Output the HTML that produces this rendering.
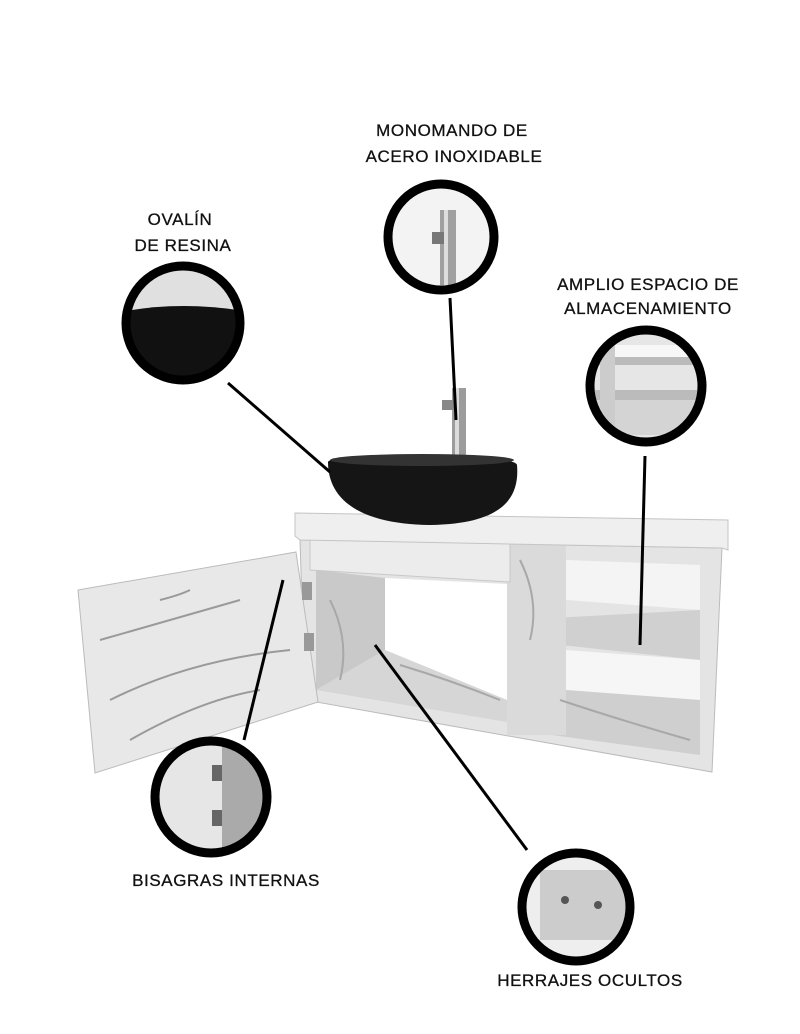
<!DOCTYPE html>
<html><head><meta charset="utf-8"><style>
html,body{margin:0;padding:0;background:#fff;}
svg{display:block;}
text{font-family:"Liberation Sans",sans-serif;font-size:17px;fill:#111;letter-spacing:0.6px;font-weight:500;stroke:#111;stroke-width:0.3px;}
</style></head><body>
<svg width="800" height="1034" viewBox="0 0 800 1034" xmlns="http://www.w3.org/2000/svg">
<defs>
<clipPath id="c1"><circle cx="441" cy="237" r="53"/></clipPath>
<clipPath id="c2"><circle cx="183" cy="323" r="57"/></clipPath>
<clipPath id="c3"><circle cx="646" cy="386" r="56"/></clipPath>
<clipPath id="c4"><circle cx="211" cy="797" r="56"/></clipPath>
<clipPath id="c5"><circle cx="576" cy="907" r="54"/></clipPath>
</defs>
<rect width="800" height="1034" fill="#fff"/>
<polygon points="300,540 722,548 712,772 305,700" fill="#e4e4e4" stroke="#bbb"/>
<polygon points="385,578 507,584 507,700 385,650" fill="#fff"/>
<polygon points="316,570 385,578 385,650 316,690" fill="#c9c9c9"/>
<polygon points="316,690 385,650 507,700 507,722" fill="#d6d6d6"/>
<polygon points="566,560 700,565 700,610 566,600" fill="#f4f4f4"/>
<polygon points="515,620 700,610 700,660 515,640" fill="#d0d0d0"/>
<polygon points="566,650 700,660 700,700 566,690" fill="#f6f6f6"/>
<polygon points="515,730 566,690 700,700 700,755" fill="#cfcfcf"/>
<polygon points="507,540 566,545 566,735 507,735" fill="#dadada"/>
<polygon points="310,530 510,536 510,582 310,570" fill="#ececec" stroke="#c8c8c8"/>
<path d="M330,600 Q350,640 340,680 M520,560 Q540,600 530,640 M560,700 Q620,720 690,740 M400,665 Q450,680 500,700" stroke="#a8a8a8" stroke-width="2" fill="none"/>
<polygon points="295,513 728,520 728,550 722,548 300,540 295,536" fill="#efefef" stroke="#c4c4c4"/>
<polygon points="78,590 296,552 318,702 95,773" fill="#e8e8e8" stroke="#bbb"/>
<path d="M100,640 Q170,620 240,600 M110,700 Q190,660 290,650 M130,740 Q200,700 260,690 M160,600 Q180,595 190,590" stroke="#9a9a9a" stroke-width="2" fill="none"/>
<rect x="302" y="582" width="10" height="18" fill="#999"/>
<rect x="304" y="633" width="10" height="18" fill="#999"/>
<rect x="452" y="388" width="14" height="72" fill="#9c9c9c"/>
<rect x="455" y="388" width="4" height="72" fill="#dcdcdc"/>
<rect x="442" y="400" width="14" height="10" fill="#888"/>
<path d="M328,462 C330,452 515,452 517,465 C520,500 500,524 430,525 C360,524 328,500 328,462Z" fill="#151515"/>
<ellipse cx="422" cy="460" rx="92" ry="6" fill="#333"/>
<g stroke="#000" stroke-width="3" fill="none">
<line x1="450" y1="298" x2="456" y2="420"/>
<line x1="228" y1="383" x2="330" y2="472"/>
<line x1="645" y1="456" x2="640" y2="645"/>
<line x1="244" y1="740" x2="283" y2="580"/>
<line x1="527" y1="850" x2="375" y2="645"/>
</g>
<g clip-path="url(#c1)"><rect x="380" y="180" width="120" height="120" fill="#f3f3f3"/>
<rect x="440" y="210" width="16" height="75" fill="#a0a0a0"/><rect x="444" y="210" width="4" height="75" fill="#ddd"/>
<rect x="432" y="232" width="12" height="12" fill="#777"/></g>
<g clip-path="url(#c2)"><rect x="120" y="260" width="130" height="130" fill="#e0e0e0"/>
<path d="M120,312 Q183,300 250,312 Q240,378 183,380 Q125,375 120,312Z" fill="#111"/></g>
<g clip-path="url(#c3)"><rect x="585" y="325" width="125" height="125" fill="#e6e6e6"/>
<rect x="595" y="345" width="110" height="12" fill="#f7f7f7"/><rect x="595" y="357" width="110" height="8" fill="#bbb"/><rect x="595" y="390" width="110" height="10" fill="#bbb"/><rect x="595" y="400" width="110" height="35" fill="#d4d4d4"/><rect x="600" y="345" width="15" height="90" fill="#ccc"/></g>
<g clip-path="url(#c4)"><rect x="150" y="735" width="125" height="125" fill="#e6e6e6"/>
<rect x="222" y="740" width="50" height="115" fill="#aaa"/>
<rect x="212" y="765" width="10" height="16" fill="#666"/><rect x="212" y="810" width="10" height="16" fill="#666"/></g>
<g clip-path="url(#c5)"><rect x="515" y="848" width="125" height="120" fill="#eee"/>
<rect x="540" y="870" width="95" height="70" fill="#ccc"/><circle cx="565" cy="900" r="4" fill="#555"/><circle cx="598" cy="905" r="4" fill="#555"/></g>
<g fill="none" stroke="#000" stroke-width="9">
<circle cx="441" cy="237" r="53"/>
<circle cx="183" cy="323" r="57"/>
<circle cx="646" cy="386" r="56"/>
<circle cx="211" cy="797" r="56"/>
<circle cx="576" cy="907" r="54"/>
</g>
<text x="452" y="136" text-anchor="middle">MONOMANDO DE</text>
<text x="454" y="162" text-anchor="middle">ACERO INOXIDABLE</text>
<text x="180" y="225" text-anchor="middle">OVALÍN</text>
<text x="183" y="251" text-anchor="middle">DE RESINA</text>
<text x="648" y="290" text-anchor="middle">AMPLIO ESPACIO DE</text>
<text x="648" y="314" text-anchor="middle">ALMACENAMIENTO</text>
<text x="226" y="886" text-anchor="middle">BISAGRAS INTERNAS</text>
<text x="590" y="986" text-anchor="middle">HERRAJES OCULTOS</text>
</svg>
</body></html>
